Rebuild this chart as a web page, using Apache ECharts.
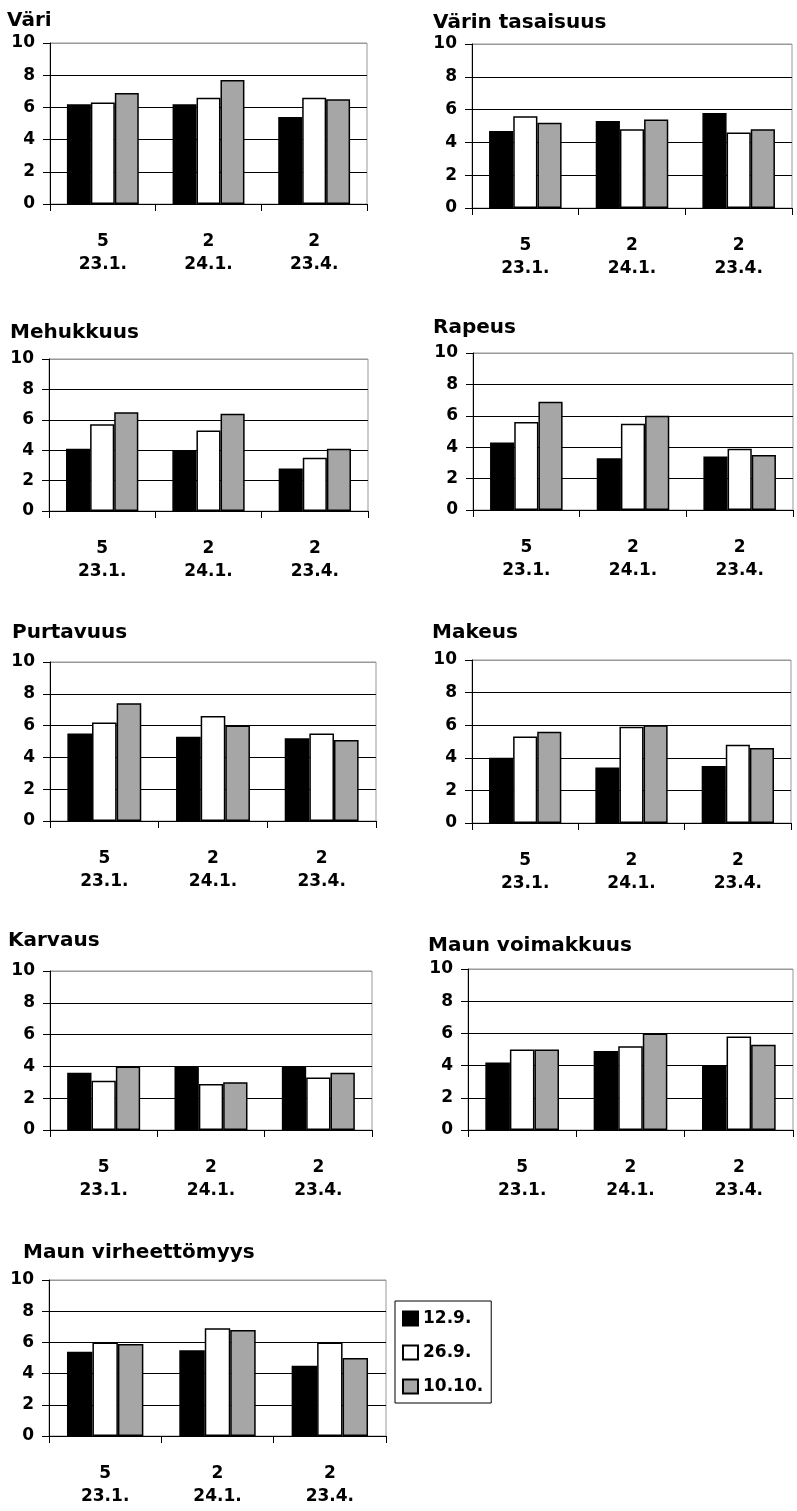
<!DOCTYPE html>
<html>
<head>
<meta charset="utf-8">
<title>Aistinvarainen arviointi</title>
<script src="https://cdn.jsdelivr.net/npm/echarts@6/dist/echarts.min.js"></script>
<style>
  html, body { margin: 0; padding: 0; background: #fff; }
  #main { width: 797px; height: 1511px; }
</style>
</head>
<body>
<div id="main"></div>
<script>
// x-akselin luokat: näytteiden määrä + päivämäärä
const categoryCounts = ['5', '2', '2'];
const categoryDates = ['23.1.', '24.1.', '23.4.'];
// sarjat (legenda)
const seriesNames = ['12.9.', '26.9.', '10.10.'];
const yMin = 0;
const yMax = 10;
const yStep = 2;

const titles = ['Väri', 'Värin tasaisuus', 'Mehukkuus', 'Rapeus', 'Purtavuus',
  'Makeus', 'Karvaus', 'Maun voimakkuus', 'Maun virheettömyys'];

// arvot: rivi = sarja (12.9., 26.9., 10.10.), sarake = luokka
const vari = [[6.2, 6.2, 5.4], [6.3, 6.6, 6.6], [6.9, 7.7, 6.5]];
const varinTasaisuus = [[4.7, 5.3, 5.8], [5.6, 4.8, 4.6], [5.2, 5.4, 4.8]];
const mehukkuus = [[4.1, 4.0, 2.8], [5.7, 5.3, 3.5], [6.5, 6.4, 4.1]];
const rapeus = [[4.3, 3.3, 3.4], [5.6, 5.5, 3.9], [6.9, 6.0, 3.5]];
const purtavuus = [[5.5, 5.3, 5.2], [6.2, 6.6, 5.5], [7.4, 6.0, 5.1]];
const makeus = [[4.0, 3.4, 3.5], [5.3, 5.9, 4.8], [5.6, 6.0, 4.6]];
const karvaus = [[3.6, 4.0, 4.0], [3.1, 2.9, 3.3], [4.0, 3.0, 3.6]];
const maunVoimakkuus = [[4.2, 4.9, 4.0], [5.0, 5.2, 5.8], [5.0, 6.0, 5.3]];
const maunVirheettomyys = [[5.4, 5.5, 4.5], [6.0, 6.9, 6.0], [5.9, 6.8, 5.0]];

const chartValues = [vari, varinTasaisuus, mehukkuus, rapeus, purtavuus,
  makeus, karvaus, maunVoimakkuus, maunVirheettomyys];

// kuvaajien paikat sivulla
const panels = [
  { left: 50, top: 43, width: 317, height: 161, tx: 7, ty: 20 },
  { left: 472, top: 44, width: 320, height: 164, tx: 433, ty: 22 },
  { left: 49, top: 359, width: 319, height: 152, tx: 10, ty: 332 },
  { left: 473, top: 353, width: 320, height: 157, tx: 433, ty: 327 },
  { left: 50, top: 662, width: 326, height: 159, tx: 12, ty: 632 },
  { left: 472, top: 660, width: 319, height: 163, tx: 432, ty: 632 },
  { left: 50, top: 971, width: 322, height: 159, tx: 8, ty: 940 },
  { left: 468, top: 969, width: 325, height: 161, tx: 428, ty: 945 },
  { left: 49, top: 1280, width: 337, height: 156, tx: 23, ty: 1252 }
];

const fillColors = ['#000000', '#ffffff', '#a6a6a6'];
const fontFamily = 'DejaVu Sans';

function buildOption() {
  const categories = categoryCounts.map(function (c, i) {
    return c + '\n' + categoryDates[i];
  });
  const title = [], grid = [], xAxis = [], yAxis = [], series = [];

  panels.forEach(function (p, k) {
    title.push({
      text: titles[k],
      left: p.tx,
      top: p.ty - 9,
      padding: 0,
      textStyle: { fontFamily: fontFamily, fontSize: 20, fontWeight: 'bold', color: '#000', lineHeight: 20 }
    });
    grid.push({
      left: p.left, top: p.top, width: p.width, height: p.height,
      show: true, borderColor: '#999', borderWidth: 1, backgroundColor: '#fff'
    });
    xAxis.push({
      type: 'category',
      gridIndex: k,
      data: categories,
      axisLine: { lineStyle: { color: '#000', width: 1 } },
      axisTick: { show: true, length: 7, lineStyle: { color: '#000' } },
      axisLabel: {
        margin: 26, color: '#000', fontFamily: fontFamily,
        fontSize: 17, fontWeight: 'bold', lineHeight: 23
      },
      splitLine: { show: false }
    });
    yAxis.push({
      type: 'value',
      gridIndex: k,
      min: yMin, max: yMax, interval: yStep,
      axisLine: { show: true, lineStyle: { color: '#000', width: 1 } },
      axisTick: { show: true, length: 7, lineStyle: { color: '#000' } },
      axisLabel: {
        margin: 15, color: '#000', fontFamily: fontFamily,
        fontSize: 17, fontWeight: 'bold'
      },
      splitLine: {
        show: true,
        lineStyle: { color: ['#000', '#000', '#000', '#000', '#000', '#999'], width: 1 }
      }
    });
    chartValues[k].forEach(function (vals, s) {
      series.push({
        name: seriesNames[s],
        type: 'bar',
        xAxisIndex: k,
        yAxisIndex: k,
        data: vals,
        barGap: '0%',
        barCategoryGap: '32%',
        itemStyle: { color: fillColors[s], borderColor: '#000', borderWidth: 1.5 }
      });
    });
  });

  return {
    backgroundColor: '#fff',
    animation: false,
    title: title,
    grid: grid,
    xAxis: xAxis,
    yAxis: yAxis,
    legend: {
      data: seriesNames,
      orient: 'vertical',
      left: 395,
      top: 1301,
      itemWidth: 15,
      itemHeight: 14,
      itemGap: 17,
      padding: [9, 8, 8, 7],
      borderColor: '#000',
      borderWidth: 1,
      icon: 'rect',
      textStyle: { fontFamily: fontFamily, fontSize: 17, fontWeight: 'bold', color: '#000' }
    },
    series: series
  };
}

const chart = echarts.init(document.getElementById('main'), null, { renderer: 'canvas' });
chart.setOption(buildOption());
</script>
</body>
</html>
